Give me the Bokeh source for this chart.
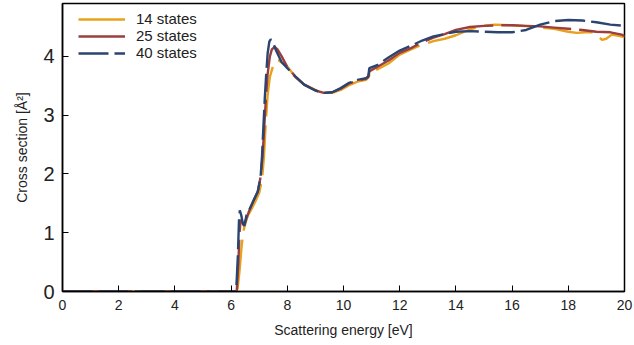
from bokeh.plotting import figure
from bokeh.models import Range1d, Legend, LegendItem, FixedTicker
from bokeh.embed import file_html
from bokeh.resources import INLINE

# ---- data ----
e14 = [0, 6.22, 6.3, 6.38, 6.45, 6.52, 6.6, 6.7, 6.85, 7.0, 7.1, 7.17, 7.23, 7.3, 7.38, 7.47, 7.55, 7.62, 7.7,
       7.85, 8.0, 8.3, 8.6, 9.0, 9.3, 9.6, 9.9, 10.2, 10.5, 10.8, 10.9, 10.95, 11.2, 11.6, 12.0, 12.4, 12.8, 13.2,
       13.6, 14.0, 14.5, 15.0, 15.4, 16.0, 16.6, 17.0, 17.5, 18.0, 18.3, 18.6, 18.85, 19.05, 19.2, 19.35, 19.55,
       19.8, 20.0]
s14 = [0, 0, 0.35, 0.8, 1.05, 1.18, 1.3, 1.38, 1.52, 1.68, 1.9, 2.3, 2.85, 3.35, 3.65, 3.8, 3.9, 3.93, 3.93,
       3.88, 3.83, 3.64, 3.52, 3.43, 3.38, 3.38, 3.43, 3.51, 3.57, 3.6, 3.65, 3.74, 3.78, 3.88, 4.03, 4.12, 4.2,
       4.26, 4.3, 4.36, 4.46, 4.52, 4.54, 4.53, 4.51, 4.49, 4.47, 4.42, 4.4, 4.41, 4.41, 4.35, 4.28, 4.3, 4.37,
       4.35, 4.33]

e25 = [0, 6.2, 6.26, 6.3, 6.34, 6.4, 6.47, 6.55, 6.65, 6.8, 6.95, 7.05, 7.12, 7.18, 7.24, 7.3, 7.38, 7.45, 7.55,
       7.65, 7.8, 8.0, 8.3, 8.6, 9.0, 9.3, 9.6, 9.9, 10.2, 10.5, 10.8, 10.88, 10.93, 11.2, 11.6, 12.0, 12.4, 12.8,
       13.2, 13.6, 14.0, 14.5, 15.0, 15.5, 16.0, 16.5, 17.0, 17.5, 18.0, 18.5, 19.0, 19.5, 19.9, 20.0]
s25 = [0, 0, 0.5, 1.0, 1.22, 1.18, 1.12, 1.25, 1.38, 1.55, 1.7, 1.95, 2.3, 2.8, 3.3, 3.7, 4.0, 4.12, 4.16,
       4.12, 4.0, 3.82, 3.65, 3.52, 3.42, 3.38, 3.39, 3.45, 3.54, 3.59, 3.62, 3.65, 3.75, 3.82, 3.93, 4.06, 4.14,
       4.24, 4.32, 4.38, 4.45, 4.5, 4.52, 4.53, 4.53, 4.52, 4.51, 4.49, 4.47, 4.45, 4.42, 4.41, 4.37, 4.35]

e40 = [0, 6.18, 6.24, 6.28, 6.31, 6.36, 6.42, 6.47, 6.55, 6.64, 6.8, 6.95, 7.05, 7.1, 7.15, 7.2, 7.25, 7.3, 7.36,
       7.41, 7.48, 7.6, 7.8, 8.0, 8.3, 8.6, 9.0, 9.3, 9.6, 9.9, 10.2, 10.5, 10.8, 10.88, 10.92, 11.2, 11.6, 12.0,
       12.4, 12.8, 13.2, 13.6, 14.0, 14.5, 15.0, 15.5, 16.0, 16.5, 17.0, 17.5, 18.0, 18.5, 19.0, 19.5, 20.0]
s40 = [0, 0, 0.6, 1.2, 1.38, 1.3, 1.15, 1.12, 1.3, 1.38, 1.55, 1.7, 1.95, 2.3, 2.8, 3.3, 3.7, 4.05, 4.25,
       4.29, 4.25, 4.1, 3.9, 3.8, 3.65, 3.52, 3.42, 3.38, 3.39, 3.46, 3.55, 3.6, 3.63, 3.66, 3.8, 3.85, 3.98, 4.1,
       4.18, 4.27, 4.34, 4.38, 4.42, 4.43, 4.42, 4.41, 4.41, 4.45, 4.54, 4.6, 4.62, 4.61, 4.58, 4.54, 4.52]

labels = ["14 states", "25 states", "40 states"]
x_ticks = [0, 2, 4, 6, 8, 10, 12, 14, 16, 18, 20]
y_ticks = [0, 1, 2, 3, 4]

FONT = "Liberation Sans"

p = figure(width=634, height=345, output_backend="svg", toolbar_location=None,
           x_range=Range1d(0, 20), y_range=Range1d(0, 4.9))
p.min_border_left = 62
p.min_border_right = 10
p.min_border_top = 3
p.min_border_bottom = 54
p.background_fill_color = "white"
p.border_fill_color = "white"
p.outline_line_color = "black"
p.outline_line_width = 1.5
p.grid.visible = False

r14 = p.line(e14, s14, line_color="#E9A01C", line_width=2.4, line_dash="50 9")
r25 = p.line(e25, s25, line_color="#9A3E3E", line_width=2.4, line_dash="70 8")
r40 = p.line(e40, s40, line_color="#2B4470", line_width=2.4, line_dash="30 6")

for ax in (p.xaxis[0], p.yaxis[0]):
    ax.axis_line_color = "black"
    ax.axis_line_width = 1.5
    ax.major_tick_in = 6
    ax.major_tick_out = 0
    ax.minor_tick_line_color = None
    ax.major_tick_line_color = "black"
    ax.major_label_text_font = FONT
    ax.axis_label_text_font = FONT
    ax.axis_label_text_font_style = "normal"
    ax.axis_label_text_font_size = "14px"
    ax.axis_label_text_color = "#222222"
    ax.major_label_text_color = "#222222"

p.xaxis[0].ticker = FixedTicker(ticks=x_ticks)
p.yaxis[0].ticker = FixedTicker(ticks=y_ticks)
p.xaxis[0].major_label_text_font_size = "14px"
p.yaxis[0].major_label_text_font_size = "20px"
p.xaxis[0].axis_label = "Scattering energy [eV]"
p.yaxis[0].axis_label = "Cross section [Å²]"
p.xaxis[0].major_label_standoff = 8
p.xaxis[0].axis_label_standoff = 9
p.yaxis[0].major_label_standoff = 8
p.yaxis[0].axis_label_standoff = 10

legend = Legend(items=[LegendItem(label=labels[0], renderers=[r14]),
                       LegendItem(label=labels[1], renderers=[r25]),
                       LegendItem(label=labels[2], renderers=[r40])],
                location=(16, 230))
legend.border_line_color = None
legend.background_fill_alpha = 0
legend.label_text_font = FONT
legend.label_text_font_size = "15px"
legend.label_text_color = "#222222"
legend.glyph_width = 47
legend.glyph_height = 14
legend.label_height = 14
legend.spacing = -2
legend.padding = 4
legend.margin = 0
legend.label_standoff = 11
p.add_layout(legend)

open("out.html", "w").write(file_html(p, INLINE))
